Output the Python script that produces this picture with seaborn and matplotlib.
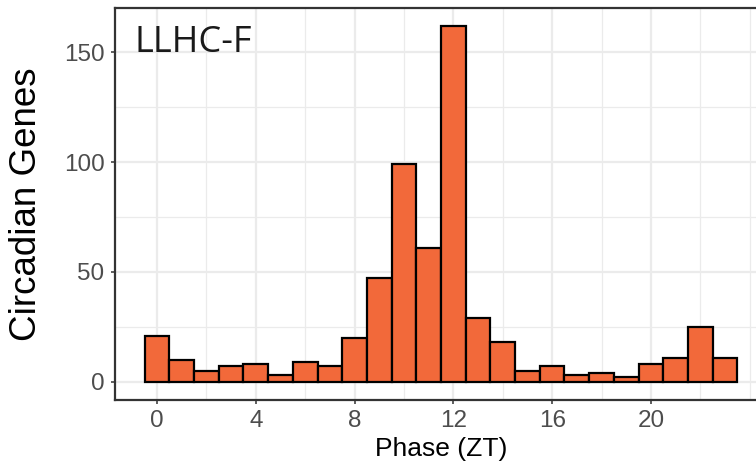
import numpy as np
import pandas as pd
import matplotlib
matplotlib.use("Agg")
import matplotlib.pyplot as plt
import seaborn as sns

# Circadian gene counts per phase hour
phase = list(range(24))
genes = [21, 10, 5, 7, 8, 3, 9, 7, 20, 47, 99, 61, 162, 29, 18, 5, 7, 3, 4, 2, 8, 11, 25, 11]
x_ticks = [0, 4, 8, 12, 16, 20]
x_minor = [2, 6, 10, 14, 18, 22, 24]
y_ticks = [0, 50, 100, 150]
y_minor = [25, 75, 125]
panel_label = "LLHC-F"

df = pd.DataFrame({"phase": phase, "genes": genes})

sns.set_style("white")
plt.rcParams["font.family"] = ["Liberation Sans", "DejaVu Sans"]

fig = plt.figure(figsize=(7.56, 4.72), dpi=100)
# panel runs past the right edge of the figure (cropped like the original)
ax = fig.add_axes([115 / 756, 1 - 399.5 / 472, (767 - 115) / 756, (399.5 - 8) / 472])

# grid like theme_bw
for v in x_minor:
    ax.axvline(v, color="#ebebeb", lw=0.9, zorder=0)
for v in y_minor:
    ax.axhline(v, color="#ebebeb", lw=0.9, zorder=0)
for v in x_ticks:
    ax.axvline(v, color="#ebebeb", lw=1.6, zorder=0)
for v in y_ticks:
    ax.axhline(v, color="#ebebeb", lw=1.6, zorder=0)

sns.histplot(data=df, x="phase", weights="genes", discrete=True, ax=ax,
             color="#F2693A", alpha=1, edgecolor="black", linewidth=1.6, zorder=2)

ax.set_xlim(-1.7, 24.7)
ax.set_ylim(-8.1, 170.1)
ax.set_xticks(x_ticks)
ax.set_yticks(y_ticks)
ax.tick_params(axis="both", labelsize=17.5, labelcolor="#4d4d4d", color="#333333",
               length=3, width=1.1, direction="out", left=True, bottom=True, pad=4.5)
ax.set_xlabel("Phase (ZT)", fontsize=19, color="black")
ax.xaxis.set_label_coords(0.5, -0.095)
ax.set_ylabel("Circadian Genes", fontsize=26.5, color="black", va="center")
ax.yaxis.set_label_coords(-0.135, 0.5)
for s in ax.spines.values():
    s.set_color("#333333")
    s.set_linewidth(1.6)

ax.text(-0.93, 150, panel_label, fontsize=26, family=["Open Sans", "DejaVu Sans"],
        color="#1a1a1a", ha="left", va="baseline", zorder=3)

fig.savefig("out.png", dpi=100)
